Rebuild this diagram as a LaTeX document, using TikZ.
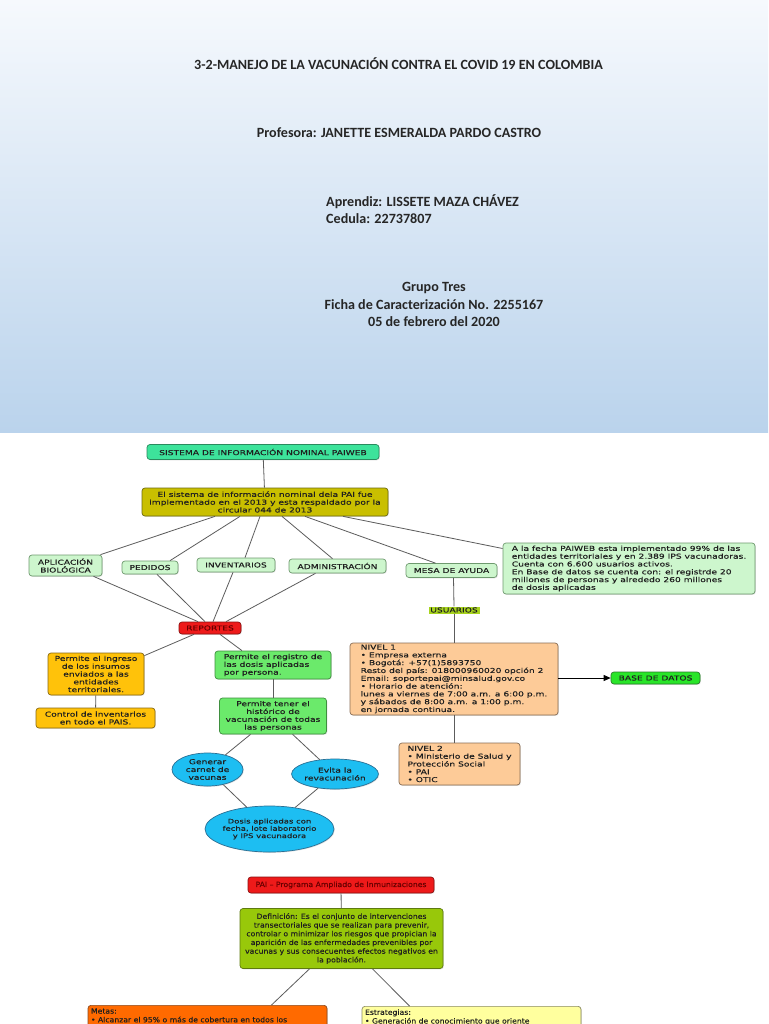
\documentclass[tikz,border=0pt]{standalone}
\usepackage{fontspec}
\setmainfont{Carlito}
\newfontfamily\dfont[FakeStretch=1.345,FakeBold=0.25]{DejaVu Sans}
\newfontfamily\efont[FakeStretch=1.07,FakeBold=0.2]{DejaVu Sans}
\usetikzlibrary{shapes.geometric,arrows.meta,shadows}
\definecolor{hdtop}{HTML}{F6F9FD}
\definecolor{hdbot}{HTML}{BAD3EC}
\definecolor{hdtext}{HTML}{262626}
\definecolor{txt}{HTML}{1F1F1F}
\definecolor{lineg}{HTML}{5C5C5C}
\definecolor{sisfill}{HTML}{3DE39B}
\definecolor{sisdraw}{HTML}{2A8A5E}
\definecolor{olivef}{HTML}{C9BF00}
\definecolor{olivedraw}{HTML}{6E6A10}
\definecolor{lgreen}{HTML}{CDF6CD}
\definecolor{lgdraw}{HTML}{6F9A6F}
\definecolor{usufill}{HTML}{A8D41E}
\definecolor{redfill}{HTML}{EE1A1A}
\definecolor{reddraw}{HTML}{8A1010}
\definecolor{redtext}{HTML}{6A0000}
\definecolor{amber}{HTML}{FFC20A}
\definecolor{amberdraw}{HTML}{8A6A10}
\definecolor{greenf}{HTML}{6BEA6B}
\definecolor{greendraw}{HTML}{3F8F3F}
\definecolor{cyanf}{HTML}{1DBEF2}
\definecolor{cyandraw}{HTML}{2A6F94}
\definecolor{peach}{HTML}{FDCB98}
\definecolor{peachdraw}{HTML}{8A6E55}
\definecolor{bdgreen}{HTML}{28E528}
\definecolor{bddraw}{HTML}{2A7A2A}
\definecolor{ygreen}{HTML}{98C80A}
\definecolor{ygdraw}{HTML}{5E7A10}
\definecolor{orangef}{HTML}{FF6A00}
\definecolor{orangedraw}{HTML}{8A4A20}
\definecolor{lyellow}{HTML}{FFFF9E}
\definecolor{lydraw}{HTML}{8A8A60}
\begin{document}
\begin{tikzpicture}[x=1pt,y=-1pt,
  hdr/.style={font=\bfseries\fontsize{14.1}{16}\selectfont, text=hdtext, inner sep=0pt},
  box/.style={draw, rounded corners=3pt, line width=0.7pt, inner sep=1pt,
    font=\dfont\fontsize{6.8}{7.8}\selectfont, text=txt, align=center,
    drop shadow={shadow xshift=0.8pt, shadow yshift=-0.8pt, opacity=0.25}},
  lgbox/.style={box, fill=lgreen, draw=lgdraw},
  bigbox/.style={box, font=\efont\fontsize{7.2}{8.7}\selectfont},
  oval/.style={box, ellipse, inner sep=0pt, fill=cyanf, draw=cyandraw},
  conn/.style={draw=lineg, line width=0.8pt},
]
\useasboundingbox (0,0) rectangle (768,1024);
\clip (0,0) rectangle (768,1024);
\fill[white] (0,0) rectangle (768,1024);
\shade[top color=hdtop, bottom color=hdbot] (0,0) rectangle (768,432);

% header
\node[hdr] (title) at (398.5,64) {3-2-MANEJO DE LA VACUNACIÓN CONTRA EL COVID 19 EN COLOMBIA};
\node[hdr] (prof) at (399,133) {Profesora: JANETTE ESMERALDA PARDO CASTRO};
\node[hdr, anchor=west] (apr) at (326,202) {Aprendiz: LISSETE MAZA CHÁVEZ};
\node[hdr, anchor=west] (ced) at (326,219) {Cedula: 22737807};
\node[hdr] (grp) at (434,288) {Grupo Tres};
\node[hdr] (fic) at (434,305) {Ficha de Caracterización No. 2255167};
\node[hdr] (fec) at (434,322) {05 de febrero del 2020};

% first map
\node[box, fill=sisfill, draw=sisdraw, minimum width=232pt, minimum height=15pt] (sis) at (263,452) {SISTEMA DE INFORMACIÓN NOMINAL PAIWEB};
\node[box, fill=olivef, draw=olivedraw, minimum width=246pt, minimum height=28pt] (sys) at (265,502) {El sistema de información nominal dela PAI fue\\implementado en el 2013 y esta respaldado por la\\circular 044 de 2013};
\node[lgbox, minimum width=73pt, minimum height=21pt] (apl) at (65.5,565.5) {APLICACIÓN\\BIOLÓGICA};
\node[lgbox, minimum width=56pt, minimum height=13pt] (ped) at (150,567.5) {PEDIDOS};
\node[lgbox, minimum width=78pt, minimum height=14pt] (inv) at (236,565) {INVENTARIOS};
\node[lgbox, minimum width=97pt, minimum height=14pt] (adm) at (337.5,566) {ADMINISTRACIÓN};
\node[lgbox, minimum width=91pt, minimum height=14pt] (mesa) at (451.5,570.5) {MESA DE AYUDA};
\node[lgbox, align=left, minimum width=252pt, minimum height=51pt] (fecha) at (629,568.5) {A la fecha PAIWEB esta implementado 99\% de las\\entidades territoriales y en 2.389 IPS vacunadoras.\\Cuenta con 6.600 usuarios activos.\\En Base de datos se cuenta con: el registrde 20\\millones de personas y alrededo 260 millones\\de dosis aplicadas};
\node[fill=usufill, inner sep=0pt, minimum width=51pt, minimum height=7pt, font=\dfont\fontsize{6.8}{7.8}\selectfont, text=txt] (usu) at (454,610) {USUARIOS};
\node[box, fill=redfill, draw=reddraw, text=redtext, minimum width=62pt, minimum height=12pt] (rep) at (210,628) {REPORTES};
\node[box, fill=amber, draw=amberdraw, minimum width=96pt, minimum height=42pt] (ing) at (96,674) {Permite el ingreso\\de los insumos\\enviados a las\\entidades\\territoriales.};
\node[box, fill=amber, draw=amberdraw, minimum width=119pt, minimum height=20pt] (ctl) at (95.5,718) {Control de inventarios\\en todo el PAIS.};
\node[box, fill=greenf, draw=greendraw, align=left, minimum width=116pt, minimum height=28pt] (reg) at (273,665) {Permite el registro de\\las dosis aplicadas\\por persona.};
\node[box, fill=greenf, draw=greendraw, minimum width=107pt, minimum height=36pt] (his) at (273,716) {Permite tener el\\histórico de\\vacunación de todas\\las personas};
\node[oval, minimum width=71pt, minimum height=33pt] (gen) at (207.5,769.5) {Generar\\carnet de\\vacunas};
\node[oval, minimum width=84pt, minimum height=30pt] (evi) at (335,774) {Evita la\\revacunación};
\node[oval, inner sep=-2pt, font=\dfont\fontsize{6.3}{7.3}\selectfont, minimum width=129pt, minimum height=46pt] (dos) at (269.5,829) {Dosis aplicadas con\\fecha, lote laboratorio\\y IPS vacunadora};
\node[box, fill=peach, draw=peachdraw, align=left, minimum width=208pt, minimum height=72pt] (niv1) at (454,679) {NIVEL 1\\• Empresa externa\\• Bogotá: +57(1)5893750\\Resto del país: 018000960020 opción 2\\Email: soportepai@minsalud.gov.co\\• Horario de atención:\\lunes a viernes de 7:00 a.m. a 6:00 p.m.\\y sábados de 8:00 a.m. a 1:00 p.m.\\en jornada continua.};
\node[box, fill=bdgreen, draw=bddraw, minimum width=89pt, minimum height=12pt] (bd) at (655.5,678) {BASE DE DATOS};
\node[box, fill=peach, draw=peachdraw, align=left, minimum width=121pt, minimum height=42pt] (niv2) at (459.5,764) {NIVEL 2\\• Ministerio de Salud y\\Protección Social\\• PAI\\• OTIC};

% connectors first map
\draw[conn] (sis) -- (sys);
\draw[conn] ([xshift=-50pt]sys.south) -- ([xshift=35pt]apl.north);
\draw[conn] ([xshift=-25pt]sys.south) -- ([xshift=20pt]ped.north);
\draw[conn] ([xshift=-5pt]sys.south) -- ([xshift=9pt]inv.north);
\draw[conn] ([xshift=17pt]sys.south) -- ([xshift=-5pt]adm.north);
\draw[conn] ([xshift=40pt]sys.south) -- ([xshift=-16pt]mesa.north);
\draw[conn] ([xshift=78pt]sys.south) -- ([yshift=20pt]fecha.west);
\draw[conn] ([xshift=28pt]apl.south) -- ([xshift=-12pt]rep.north);
\draw[conn] ([xshift=7pt]ped.south) -- ([xshift=-5pt]rep.north);
\draw[conn] ([xshift=-3pt]inv.south) -- ([xshift=3pt]rep.north);
\draw[conn] ([xshift=-22pt]adm.south) -- ([xshift=16pt]rep.north);
\draw[conn] ([xshift=-16pt]rep.south) -- ([yshift=-3pt]ing.north east);
\draw[conn] ([xshift=10pt]rep.south) -- ([xshift=-31pt]reg.north);
\draw[conn] (ing) -- (ctl);
\draw[conn] (reg) -- (his);
\draw[conn] (his) -- (gen);
\draw[conn] (his) -- (evi);
\draw[conn] (gen) -- (dos);
\draw[conn] (evi) -- (dos);
\draw[conn] ([xshift=2pt]mesa.south) -- (usu.north);
\draw[conn] (usu.south) -- (niv1.north);
\draw[conn] (niv1.south) -- (niv1.south |- niv2.north);
\draw[conn, draw=black, -{Triangle[length=7pt,width=6pt]}] (niv1.east |- bd.west) -- (bd.west);

% second map
\node[bigbox, fill=redfill, draw=reddraw, text=redtext, minimum width=186pt, minimum height=16pt] (pai) at (341,885) {PAI – Programa Ampliado de Inmunizaciones};
\node[bigbox, fill=ygreen, draw=ygdraw, minimum width=203pt, minimum height=60pt] (def) at (341.5,938.5) {Definición: Es el conjunto de intervenciones\\transectoriales que se realizan para prevenir,\\controlar o minimizar los riesgos que propician la\\aparición de las enfermedades prevenibles por\\vacunas y sus consecuentes efectos negativos en\\la población.};
\node[bigbox, fill=orangef, draw=orangedraw, anchor=north, inner sep=3pt] (metas) at (207.5,1005) {\parbox[t][60pt][t]{233pt}{\raggedright Metas:\\• Alcanzar el 95\% o más de cobertura en todos los}};
\node[bigbox, fill=lyellow, draw=lydraw, anchor=north, inner sep=3pt] (est) at (471.5,1006) {\parbox[t][60pt][t]{213pt}{\raggedright Estrategias:\\• Generación de conocimiento que oriente}};
\draw[conn] (pai) -- (def);
\draw[conn] ([xshift=-32pt]def.south) -- ([xshift=64pt]metas.north);
\draw[conn] ([xshift=31pt]def.south) -- ([xshift=-62pt]est.north);
\end{tikzpicture}
\end{document}
